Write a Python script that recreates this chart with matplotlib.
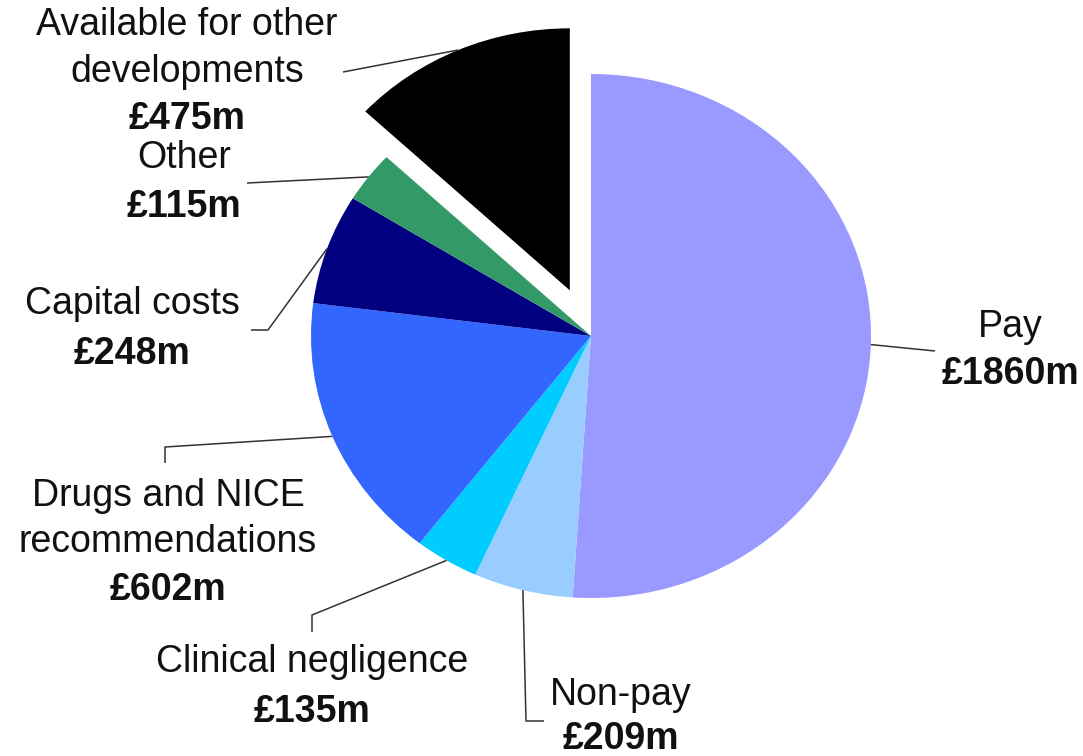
import numpy as np
import matplotlib
matplotlib.use("Agg")
import matplotlib.pyplot as plt

# spending breakdown, £m
categories = [
    "Pay",
    "Non-pay",
    "Clinical negligence",
    "Drugs and NICE\nrecommendations",
    "Capital costs",
    "Other",
    "Available for other\ndevelopments",
]
values = [1860, 209, 135, 602, 248, 115, 475]

COLOURS = ["#9999ff", "#99ccff", "#00ccff", "#3366ff", "#000080", "#339966", "#000000"]
EXPLODE = [0, 0, 0, 0, 0, 0, 0.19]

W, H = 1083, 756
# pie centre and radii in pixels (the source image is slightly stretched)
CX, CY, RX, RY = 591, 336, 280, 262

# label layout in pixels: centre x, baseline of each line (name lines, then value)
LABEL_LAYOUT = [
    (1010, [337, 384]),
    (621, [705, 749]),
    (312, [672, 722]),
    (168, [506, 552, 600]),
    (132, [314, 364]),
    (184, [168, 217]),
    (187, [35, 82, 129]),
]
# leader line points after the wedge anchor, pixels
LEADERS = [
    [(935, 351)],
    [(526, 721), (544, 721)],
    [(312, 615), (312, 632)],
    [(165, 447), (165, 463)],
    [(268, 330), (251, 330)],
    [(247, 183)],
    [(343, 72)],
]

FONT = "Liberation Sans"
FONT_SIZE = 27


def to_data(px, py):
    return (px - CX) / RX, (CY - py) / RY


fig = plt.figure(figsize=(W / 100, H / 100), dpi=100)
ax = fig.add_axes([0, 0, 1, 1])

wedges, _ = ax.pie(
    values,
    colors=COLOURS,
    explode=EXPLODE,
    startangle=90,
    counterclock=False,
    wedgeprops=dict(linewidth=0, edgecolor="none", antialiased=True),
)

ax.set_aspect("auto")
x0, y0 = to_data(0, H)
x1, y1 = to_data(W, 0)
ax.set_xlim(x0, x1)
ax.set_ylim(y0, y1)
ax.axis("off")

for wedge, name, value, (lx, baselines), path in zip(wedges, categories, values, LABEL_LAYOUT, LEADERS):
    mid = np.deg2rad((wedge.theta1 + wedge.theta2) / 2)
    cx, cy = wedge.center
    ax_pt = (cx + wedge.r * np.cos(mid), cy + wedge.r * np.sin(mid))
    pts = [ax_pt] + [to_data(px, py) for px, py in path]
    xs, ys = zip(*pts)
    ax.plot(xs, ys, color="#333333", lw=1.1, solid_capstyle="butt")

    lines = name.split("\n") + [f"£{value}m"]
    for i, (line, by) in enumerate(zip(lines, baselines)):
        bold = i == len(lines) - 1
        tx, ty = to_data(lx, by)
        ax.text(tx, ty, line, ha="center", va="baseline", family=FONT,
                fontsize=FONT_SIZE, fontweight="bold" if bold else "normal",
                color="#111111")

fig.savefig("out.png", dpi=100)
